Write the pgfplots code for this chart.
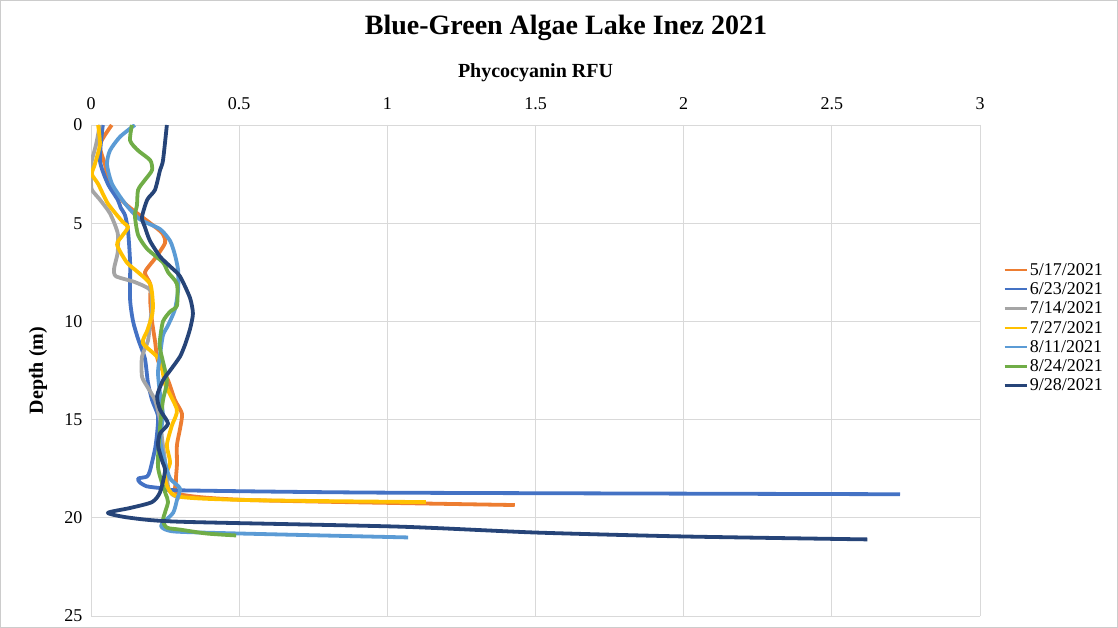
\documentclass[border=0pt]{standalone}
\usepackage{fontspec}
\setmainfont{Liberation Serif}
\usepackage{pgfplots}
\pgfplotsset{compat=1.18}
\definecolor{cOr}{HTML}{ED7D31}
\definecolor{cBl}{HTML}{4472C4}
\definecolor{cGr}{HTML}{A5A5A5}
\definecolor{cYe}{HTML}{FFC000}
\definecolor{cLb}{HTML}{5B9BD5}
\definecolor{cGn}{HTML}{70AD47}
\definecolor{cNv}{HTML}{264478}
\begin{document}
\begin{tikzpicture}
\useasboundingbox (0,0) rectangle (1118pt,628pt);
\draw[black!20, line width=0.8pt] (0.4pt,0.4pt) rectangle (1117.6pt,627.6pt);
\node[font=\fontsize{28}{32}\selectfont\bfseries] at (566pt,600pt) {Blue-Green Algae Lake Inez 2021};
\begin{axis}[
  at={(91pt,12pt)}, anchor=south west, scale only axis,
  width=889pt, height=491pt,
  xmin=0, xmax=3, ymin=0, ymax=25, y dir=reverse,
  xtick={0,0.5,1,1.5,2,2.5,3}, ytick={0,5,10,15,20,25},
  xticklabels={0,0.5,1,1.5,2,2.5,3},
  xticklabel pos=upper,
  grid=major, major grid style={draw=black!15, line width=0.8pt},
  axis line style={draw=none}, major tick length=0pt,
  /pgf/number format/assume math mode=true,
  ticklabel style={font=\fontsize{18}{20}\selectfont},
  xticklabel style={yshift=12pt},
  yticklabel style={xshift=-5pt},
  xlabel={Phycocyanin RFU}, ylabel={Depth (m)},
  xlabel style={font=\fontsize{20}{24}\selectfont\bfseries, at={(axis description cs:0.5,1.106)}, anchor=center},
  ylabel style={font=\fontsize{20}{24}\selectfont\bfseries, at={(axis description cs:-0.0596,0.5)}, anchor=center},
  legend style={at={(axis description cs:1.026,0.587)}, anchor=west, draw=none, fill=none,
    font=\fontsize{18}{19.5}\selectfont, row sep=1.8pt, inner sep=0pt},
  legend cell align=left,
  legend image code/.code={\draw[#1, line width=2.5pt] (0pt,0pt) -- (22pt,0pt);},
  every axis plot/.append style={line width=3.8pt, line join=round, smooth, tension=0.4},
]
% 5/17/2021
\addplot[cOr] coordinates {
(0.07,0) (0.03,1.0) (0.047,2.0) (0.064,3.0) (0.115,4.0) (0.2,5.0) (0.24,5.5) (0.25,6.0)
(0.216,6.8) (0.182,7.5) (0.2,8.1) (0.2,9.0) (0.206,10) (0.216,11) (0.226,12) (0.26,13)
(0.283,14) (0.307,14.7) (0.30,15.5) (0.29,16.3) (0.29,17.3) (0.287,18.1) (0.30,18.8)
(0.54,19.1) (1.43,19.35)};
\addlegendentry{5/17/2021}
% 6/23/2021
\addplot[cBl] coordinates {
(0.04,0) (0.03,1.8) (0.057,3.0) (0.09,3.8) (0.1,4.2) (0.115,4.6) (0.125,5.4) (0.132,7.0)
(0.132,8.9) (0.142,10.0) (0.159,10.9) (0.182,11.9) (0.192,13.1) (0.206,14.0) (0.226,14.8)
(0.223,15.7) (0.216,16.5) (0.199,17.6) (0.189,17.9) (0.159,18.0) (0.165,18.2) (0.189,18.4)
(0.243,18.5) (0.30,18.6) (1.0,18.72) (2.73,18.8)};
\addlegendentry{6/23/2021}
% 7/14/2021
\addplot[cGr] coordinates {
(0.03,0) (0.017,1.0) (0.0,2.0) (0.0,2.8) (0.003,3.3) (0.03,3.8) (0.064,4.5) (0.09,5.5)
(0.09,6.5) (0.078,7.3) (0.084,7.7) (0.148,8.0) (0.2,8.4) (0.206,9.2) (0.2,10.0) (0.192,11)
(0.172,11.8) (0.172,12.8) (0.189,13.3) (0.216,14.0) (0.233,15.0) (0.24,16.0) (0.25,17.1)
(0.26,18.4) (0.273,18.8) (0.30,19.0)};
\addlegendentry{7/14/2021}
% 7/27/2021
\addplot[cYe] coordinates {
(0.024,0) (0.03,1.0) (0.013,2.0) (0.003,2.5) (0.024,3.0) (0.057,4.0) (0.105,4.9) (0.125,5.2)
(0.105,5.65) (0.088,6.1) (0.121,7.0) (0.159,7.5) (0.2,8.1) (0.209,9.1) (0.206,9.7)
(0.189,10.5) (0.175,11.1) (0.223,11.8) (0.24,12.4) (0.25,13.2) (0.29,14.5) (0.273,15.3)
(0.256,16.3) (0.267,17.2) (0.25,18.0) (0.29,18.9) (0.54,19.1) (1.13,19.2)};
\addlegendentry{7/27/2021}
% 8/11/2021
\addplot[cLb] coordinates {
(0.148,0) (0.098,0.6) (0.064,1.3) (0.054,2.0) (0.071,3.0) (0.115,4.0) (0.165,4.8)
(0.233,5.3) (0.267,5.9) (0.283,6.6) (0.294,7.4) (0.294,8.4) (0.283,9.4) (0.26,10.2)
(0.243,10.7) (0.233,11.7) (0.226,12.6) (0.233,13.7) (0.243,14.8) (0.233,16.0) (0.25,17.2)
(0.267,18.0) (0.30,18.5) (0.29,19.1) (0.277,19.75) (0.24,20.3) (0.24,20.5) (0.283,20.7)
(0.503,20.8) (1.07,21.0)};
\addlegendentry{8/11/2021}
% 8/24/2021
\addplot[cGn] coordinates {
(0.138,0) (0.132,0.8) (0.159,1.3) (0.2,1.8) (0.206,2.3) (0.182,2.8) (0.159,3.3) (0.155,4.1)
(0.148,4.6) (0.159,5.6) (0.189,6.3) (0.243,7.0) (0.26,7.5) (0.29,8.1) (0.29,9.2) (0.267,9.5)
(0.243,10.0) (0.233,10.9) (0.233,11.4) (0.256,13.0) (0.243,14.0) (0.233,15.4) (0.226,17.4)
(0.25,18.7) (0.26,19.2) (0.243,20.1) (0.256,20.5) (0.30,20.6) (0.39,20.8) (0.49,20.9)};
\addlegendentry{8/24/2021}
% 9/28/2021
\addplot[cNv] coordinates {
(0.256,0) (0.243,1.8) (0.233,2.3) (0.216,3.3) (0.19,3.8) (0.172,4.7) (0.182,5.2) (0.199,5.9)
(0.233,6.7) (0.267,7.2) (0.30,7.7) (0.334,8.8) (0.344,9.6) (0.334,10.4) (0.317,11.2)
(0.30,11.8) (0.267,12.5) (0.243,13.0) (0.223,13.8) (0.233,14.5) (0.26,15.2) (0.233,15.7)
(0.226,16.3) (0.24,17.1) (0.25,17.6) (0.233,18.7) (0.206,19.2) (0.132,19.5) (0.057,19.75)
(0.132,20.0) (0.30,20.2) (1.04,20.45) (1.5,20.75) (2.0,20.95) (2.62,21.1)};
\addlegendentry{9/28/2021}
\end{axis}
\end{tikzpicture}
\end{document}
